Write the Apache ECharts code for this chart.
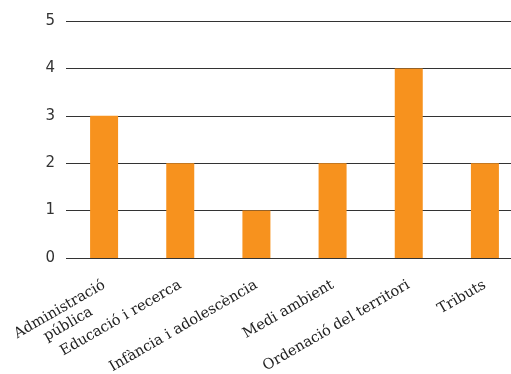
<!DOCTYPE html>
<html><head><meta charset="utf-8">
<script src="https://cdn.jsdelivr.net/npm/echarts@6/dist/echarts.min.js"></script>
<style>html,body{margin:0;padding:0;background:#fff;overflow:hidden}#c{width:523px;height:374px}</style>
</head><body><div id="c"></div>
<script>
const categories = ["Administració\npública", "Educació i recerca", "Infància i adolescència", "Medi ambient", "Ordenació del territori", "Tributs"];
const values = [3, 2, 1, 2, 4, 2];
const yTicks = [0, 1, 2, 3, 4, 5];

const chart = echarts.init(document.getElementById('c'));
chart.setOption({
  animation: false,
  grid: { left: 66, right: 0, top: 21, height: 237, containLabel: false, outerBoundsMode: 'none' },
  xAxis: {
    type: 'category',
    data: categories.map(c => c.indexOf('\n') >= 0 ? { value: c, textStyle: { padding: [17, 0, 0, 0] } } : c),
    axisLine: { show: false },
    axisTick: { show: false },
    axisLabel: {
      interval: 0,
      rotate: 30,
      margin: 26,
      color: '#222',
      fontFamily: 'DejaVu Serif',
      fontSize: 14.5,
      formatter: v => v.split('\n').map(s => '{c|' + s + '}').join('\n'),
      rich: { c: { align: 'center', fontFamily: 'DejaVu Serif', fontSize: 14.5, color: '#222', lineHeight: 17 } }
    }
  },
  yAxis: {
    type: 'value',
    min: yTicks[0],
    max: yTicks[yTicks.length - 1],
    interval: 1,
    axisLine: { show: false },
    axisTick: { show: false },
    axisLabel: { margin: 11, color: '#333', fontFamily: 'DejaVu Sans', fontSize: 15 },
    splitLine: { lineStyle: { color: '#333', width: 1 } }
  },
  series: [{
    type: 'bar',
    data: values,
    barWidth: 28,
    itemStyle: { color: '#F7921E' }
  }]
});
</script></body></html>
